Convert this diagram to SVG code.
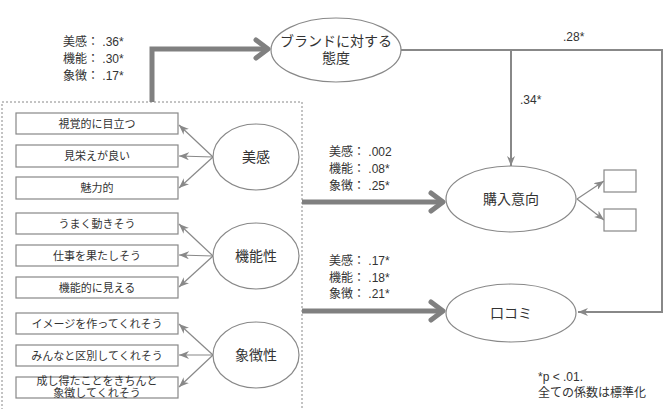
<svg xmlns="http://www.w3.org/2000/svg" width="663" height="409" viewBox="0 0 663 409">
<style>
text{font-family:"Liberation Sans","Noto Sans CJK JP",sans-serif;fill:#333}
.t11{font-size:11px}
.t12{font-size:12px}
.t14{font-size:14px}
.c{text-anchor:middle}
.box{fill:#fff;stroke:#888;stroke-width:1.2}
.ell{fill:#fff;stroke:#888;stroke-width:1.2}
.thin{fill:none;stroke:#888;stroke-width:1.2}
.thick{fill:none;stroke:#808080;stroke-width:5}
.head{fill:none;stroke:#808080;stroke-width:5;stroke-linecap:round;stroke-linejoin:round}
.line2{fill:none;stroke:#888;stroke-width:2}
</style>
<defs>
<marker id="ah" viewBox="0 0 10 8" refX="10" refY="4" markerWidth="10" markerHeight="8" markerUnits="userSpaceOnUse" orient="auto">
<path d="M0,0 L10,4 L0,8 L3,4 z" fill="#888"/>
</marker>
</defs>
<rect x="2" y="102" width="300" height="320" fill="none" stroke="#888" stroke-width="1" stroke-dasharray="2,2"/>
<g id="connectors">
<polyline class="thick" points="152,102 152,49 266,49"/>
<polyline class="head" points="256,40 268,49 256,58"/>
<line class="thick" x1="302" y1="202" x2="441" y2="202"/>
<polyline class="head" points="431,193 443,202 431,211"/>
<line class="thick" x1="302" y1="311" x2="441" y2="311"/>
<polyline class="head" points="431,302 443,311 431,320"/>
<polyline class="line2" points="401,50 662,50 662,312 578,312" marker-end="url(#ah)"/>
<line class="line2" x1="511" y1="50" x2="511" y2="166" marker-end="url(#ah)"/>
<line class="thin" x1="213" y1="157" x2="179" y2="125" marker-end="url(#ah)"/>
<line class="thin" x1="213" y1="157" x2="179" y2="156" marker-end="url(#ah)"/>
<line class="thin" x1="213" y1="157" x2="179" y2="188" marker-end="url(#ah)"/>
<line class="thin" x1="213" y1="256" x2="179" y2="224" marker-end="url(#ah)"/>
<line class="thin" x1="213" y1="256" x2="179" y2="255" marker-end="url(#ah)"/>
<line class="thin" x1="213" y1="256" x2="179" y2="287" marker-end="url(#ah)"/>
<line class="thin" x1="213" y1="355" x2="179" y2="324" marker-end="url(#ah)"/>
<line class="thin" x1="213" y1="355" x2="179" y2="355" marker-end="url(#ah)"/>
<line class="thin" x1="213" y1="355" x2="179" y2="387" marker-end="url(#ah)"/>
<line class="thin" x1="577" y1="199" x2="604" y2="181" marker-end="url(#ah)"/>
<line class="thin" x1="577" y1="199" x2="604" y2="220" marker-end="url(#ah)"/>
</g>
<g id="labels">
<text class="t12" x="63" y="46">美感： .36*</text>
<text class="t12" x="63" y="63">機能： .30*</text>
<text class="t12" x="63" y="80">象徴： .17*</text>
<text class="t12" x="563" y="41">.28*</text>
<text class="t12" x="520" y="104">.34*</text>
<text class="t12" x="329" y="156">美感： .002</text>
<text class="t12" x="329" y="173">機能： .08*</text>
<text class="t12" x="329" y="190">象徴： .25*</text>
<text class="t12" x="329" y="265">美感： .17*</text>
<text class="t12" x="329" y="282">機能： .18*</text>
<text class="t12" x="329" y="298">象徴： .21*</text>
<text class="t12" x="538" y="381">*p &lt; .01.</text>
<text class="t12" x="538" y="397">全ての係数は標準化</text>
</g>
<g id="attitude"><ellipse class="ell" cx="336" cy="50" rx="65" ry="32"/><text class="t14 c" x="336" y="46">ブランドに対する</text><text class="t14 c" x="336" y="63">態度</text></g>
<g id="purchase"><ellipse class="ell" cx="511" cy="199" rx="65" ry="33"/><text class="t14 c" x="511" y="204">購入意向</text></g>
<g id="wom"><ellipse class="ell" cx="511" cy="313" rx="65" ry="29"/><text class="t14 c" x="511" y="318">口コミ</text></g>
<g id="pi1"><rect class="box" x="604" y="170" width="32" height="22"/></g>
<g id="pi2"><rect class="box" x="604" y="209" width="32" height="22"/></g>
<g id="aesthetic"><ellipse class="ell" cx="256" cy="157" rx="43" ry="33"/><text class="t14 c" x="256" y="162">美感</text></g>
<g id="function"><ellipse class="ell" cx="256" cy="256" rx="43" ry="33"/><text class="t14 c" x="256" y="261">機能性</text></g>
<g id="symbol"><ellipse class="ell" cx="256" cy="355" rx="43" ry="33"/><text class="t14 c" x="256" y="360">象徴性</text></g>
<g id="b1"><rect class="box" x="16" y="113" width="162" height="21"/><text class="t11 c" x="97" y="127.5">視覚的に目立つ</text></g>
<g id="b2"><rect class="box" x="16" y="145" width="162" height="22"/><text class="t11 c" x="97" y="160">見栄えが良い</text></g>
<g id="b3"><rect class="box" x="16" y="177" width="162" height="22"/><text class="t11 c" x="97" y="192">魅力的</text></g>
<g id="b4"><rect class="box" x="16" y="213" width="162" height="21"/><text class="t11 c" x="97" y="227.5">うまく動きそう</text></g>
<g id="b5"><rect class="box" x="16" y="245" width="162" height="21"/><text class="t11 c" x="97" y="259.5">仕事を果たしそう</text></g>
<g id="b6"><rect class="box" x="16" y="277" width="162" height="21"/><text class="t11 c" x="97" y="291.5">機能的に見える</text></g>
<g id="b7"><rect class="box" x="16" y="313" width="162" height="21"/><text class="t11 c" x="97" y="327.5">イメージを作ってくれそう</text></g>
<g id="b8"><rect class="box" x="16" y="345" width="162" height="21"/><text class="t11 c" x="97" y="359.5">みんなと区別してくれそう</text></g>
<g id="b9"><rect class="box" x="16" y="377" width="162" height="21"/><text class="t11 c" x="97" y="385">成し得たことをきちんと</text><text class="t11 c" x="97" y="397">象徴してくれそう</text></g>
</svg>
